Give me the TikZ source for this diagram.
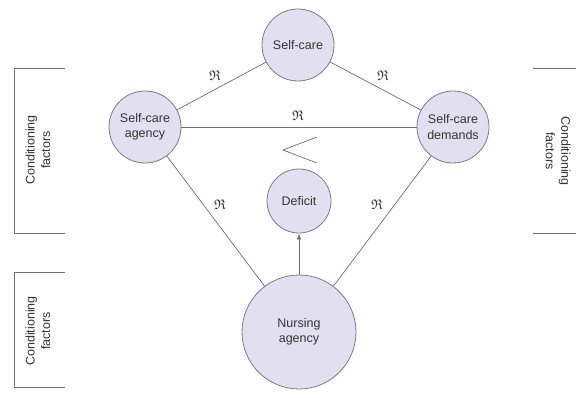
\documentclass[tikz,border=0pt]{standalone}
\usepackage{amsmath}
\usepackage{amssymb}
\usepackage{amsfonts}
\usepackage{fontspec}
\setmainfont{Liberation Sans}
\usepackage{tikz}
\usetikzlibrary{positioning}
\usetikzlibrary{arrows.meta}
\usepackage{xcolor}
\definecolor{circfill}{HTML}{E2E0F0}
\definecolor{circline}{HTML}{7C7A88}
\definecolor{txtgray}{HTML}{333333}
\definecolor{linegray}{HTML}{6E6E6E}

\begin{document}
\begin{tikzpicture}[x=1pt, y=-1pt,
	circ/.style={circle, draw=circline, fill=circfill, line width=0.8pt, inner sep=0pt, align=center, text=txtgray, font=\fontsize{12.5}{15.5}\selectfont},
	rlab/.style={text=txtgray, inner sep=0pt, font=\fontsize{14}{16}\selectfont},
	cond/.style={text=txtgray, align=center, inner sep=0pt, font=\fontsize{12.5}{15.5}\selectfont},
	conn/.style={draw=linegray, line width=0.7pt}]
		\useasboundingbox (0, 0) rectangle (576, 398);
		\node[circ, minimum size=72pt] (selfcare) at (298, 45) {Self-care};
		\node[circ, minimum size=72pt] (agency) at (145, 127) {Self-care\\agency};
		\node[circ, minimum size=72pt] (demands) at (453, 127) {Self-care\\demands};
		\node[circ, minimum size=64pt] (deficit) at (299, 201) {Deficit};
		\node[circ, minimum size=114pt] (nursing) at (299, 332) {Nursing\\agency};
		\draw[conn] (agency) -- (selfcare);
		\draw[conn] (selfcare) -- (demands);
		\draw[conn] (agency) -- (demands);
		\draw[conn] (agency) -- (nursing);
		\draw[conn] (demands) -- (nursing);
		\draw[conn, -{Latex[length=6pt, width=4.5pt]}] (nursing) -- (deficit);
		\node[rlab] (r1) at (215, 76) {$\mathfrak{R}$};
		\node[rlab] (r2) at (383, 76) {$\mathfrak{R}$};
		\node[rlab] (r3) at (298, 116) {$\mathfrak{R}$};
		\node[rlab] (r4) at (220, 205) {$\mathfrak{R}$};
		\node[rlab] (r5) at (377, 205) {$\mathfrak{R}$};
		\draw[conn] (317, 137) -- (283, 150) -- (317, 163);
		\draw[conn] (65, 68) -- (14, 68) -- (14, 233) -- (65, 233);
		\node[cond, rotate=90] (condleft) at (38, 150) {Conditioning\\factors};
		\draw[conn] (65, 272) -- (14, 272) -- (14, 387) -- (65, 387);
		\node[cond, rotate=90] (condlow) at (38, 331) {Conditioning\\factors};
		\draw[conn] (533, 68) -- (576, 68);
		\draw[conn] (533, 233) -- (576, 233);
		\node[cond, rotate=-90] (condright) at (558, 151) {Conditioning\\factors};
\end{tikzpicture}
\end{document}
